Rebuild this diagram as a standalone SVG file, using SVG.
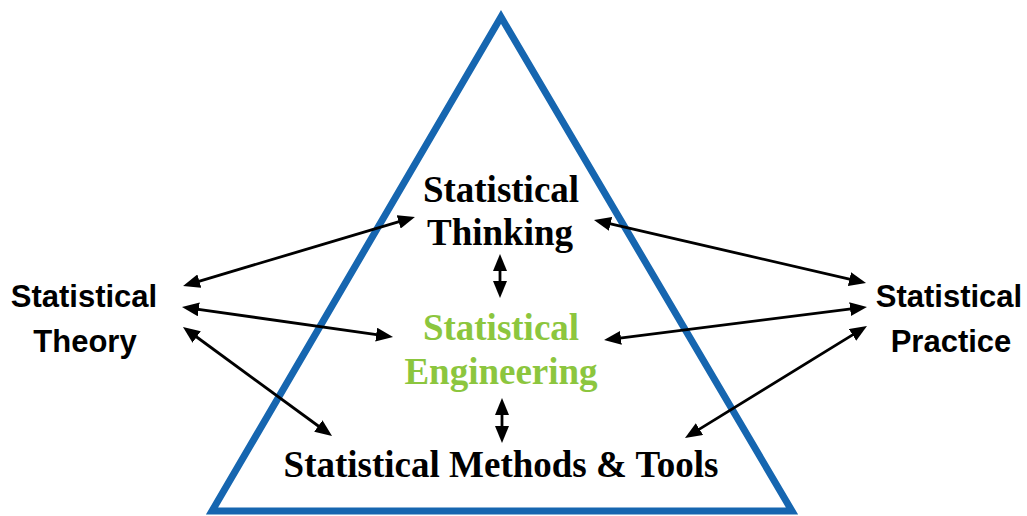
<svg xmlns="http://www.w3.org/2000/svg" width="1027" height="516" viewBox="0 0 1027 516">
<style>
.serif{font-family:"Liberation Serif","Times New Roman",serif;font-weight:bold;font-size:37px;text-anchor:middle}
.sans{font-family:"Liberation Sans",Arial,sans-serif;font-weight:bold;font-size:31px;text-anchor:middle}
.blk{fill:#000}
.grn{fill:#8CC63E}
.arr{stroke:#000;stroke-width:2.8;fill:none;marker-start:url(#ah);marker-end:url(#ah)}
</style>
<defs>
<marker id="ah" markerUnits="userSpaceOnUse" markerWidth="17" markerHeight="14" refX="11" refY="7" orient="auto-start-reverse" viewBox="0 0 17 14">
<path d="M0,0 L17,7 L0,14 z" fill="#000"/>
</marker>
</defs>
<rect width="1027" height="516" fill="#fff"/>
<g id="triangle">
<polygon points="501,17 212,511 792,511" fill="none" stroke="#1666B0" stroke-width="7" stroke-linejoin="miter"/>
</g>
<g id="connectors">
<line class="arr" x1="188.8" y1="284.3" x2="409.2" y2="218.7"/>
<line class="arr" x1="187.9" y1="307.8" x2="387.1" y2="336.2"/>
<line class="arr" x1="187.8" y1="330.5" x2="327.2" y2="432.5"/>
<line class="arr" x1="599.8" y1="221.4" x2="860.2" y2="281.6"/>
<line class="arr" x1="610" y1="339.3" x2="861" y2="307.7"/>
<line class="arr" x1="690.1" y1="434.9" x2="861.9" y2="329.1"/>
<line class="arr" x1="500" y1="260" x2="500" y2="292"/>
<line class="arr" x1="502" y1="404" x2="502" y2="437"/>
</g>
<g id="thinking">
<text class="serif blk" x="501" y="202">Statistical</text>
<text class="serif blk" x="500" y="245">Thinking</text>
</g>
<g id="engineering">
<text class="serif grn" x="501" y="340">Statistical</text>
<text class="serif grn" x="501" y="384">Engineering</text>
</g>
<g id="methods">
<text class="serif blk" x="501" y="477">Statistical Methods &amp; Tools</text>
</g>
<g id="theory">
<text class="sans blk" x="84" y="307">Statistical</text>
<text class="sans blk" x="85" y="352">Theory</text>
</g>
<g id="practice">
<text class="sans blk" x="949" y="307">Statistical</text>
<text class="sans blk" x="951" y="352">Practice</text>
</g>
</svg>
